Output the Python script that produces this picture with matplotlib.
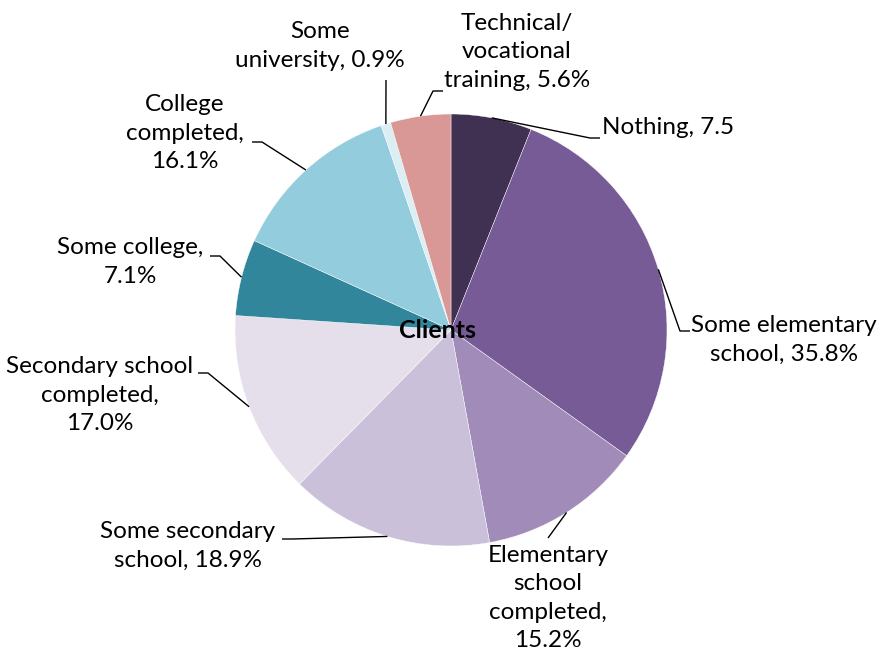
import numpy as np
import matplotlib
matplotlib.use("Agg")
import matplotlib.pyplot as plt

# Education level of clients (percent)
categories = [
    "Nothing",
    "Some elementary school",
    "Elementary school completed",
    "Some secondary school",
    "Secondary school completed",
    "Some college",
    "College completed",
    "Some university",
    "Technical/vocational training",
]
values = [7.5, 35.8, 15.2, 18.9, 17.0, 7.1, 16.1, 0.9, 5.6]
value_text = ["7.5", "35.8%", "15.2%", "18.9%", "17.0%", "7.1%", "16.1%", "0.9%", "5.6%"]
colors = ["#403152", "#775B97", "#A18BB8", "#CBC0DA", "#E5DFEC",
          "#31869C", "#93CDDD", "#DBEEF4", "#D99795"]

# How each data label is wrapped onto lines
label_wraps = [
    "{c}, {v}",
    "Some elementary\nschool, {v}",
    "Elementary\nschool\ncompleted,\n{v}",
    "Some secondary\nschool, {v}",
    "Secondary school\ncompleted,\n{v}",
    "Some college,\n{v}",
    "College\ncompleted,\n{v}",
    "Some\nuniversity, {v}",
    "Technical/\nvocational\ntraining, {v}",
]

# Label layout in pixel coordinates of the figure (origin top-left):
# text block centre, attach point of the leader, and stub direction
label_layout = [
    dict(text=(668, 128), attach=(600, 138), stub=-1),
    dict(text=(784, 340), attach=(690, 331), stub=-1),
    dict(text=(548, 598), attach=(548, 538), stub=0),
    dict(text=(188, 546), attach=(282, 539), stub=1),
    dict(text=(100, 395), attach=(198, 373), stub=1),
    dict(text=(130, 262), attach=(210, 256), stub=1),
    dict(text=(185, 133), attach=(252, 142), stub=1),
    dict(text=(320, 46), attach=(386, 80), stub=0),
    dict(text=(517, 52), attach=(443, 91), stub=-1),
]

W, H = 882, 658
CX, CY, R = 451, 330, 216


def to_data(px, py):
    return (px - CX) / R, (CY - py) / R


plt.rcParams["font.family"] = ["Lato", "DejaVu Sans"]
fig = plt.figure(figsize=(W / 100, H / 100), dpi=100)
ax = fig.add_axes([0, 0, 1, 1])

wedges, _ = ax.pie(values, colors=colors, startangle=90, counterclock=False,
                   radius=1.0, wedgeprops=dict(edgecolor="white", linewidth=0.3))
ax.set_xlim(-CX / R, (W - CX) / R)
ax.set_ylim((CY - H) / R, CY / R)
ax.set_aspect("auto")
ax.axis("off")

fs = 17.5
for w, cat, vt, wrap, lay in zip(wedges, categories, value_text, label_wraps, label_layout):
    mid = np.deg2rad((w.theta1 + w.theta2) / 2)
    ex, ey = np.cos(mid), np.sin(mid)
    tx, ty = to_data(*lay["text"])
    label = wrap.format(c=cat, v=vt)
    ax.text(tx, ty, label, ha="center", va="center", fontsize=fs,
            linespacing=1.42, color="#000000")
    axp, ayp = to_data(*lay["attach"])
    if lay["stub"] == 0:
        xs, ys = [ex, axp], [ey, ayp]
    else:
        sx = axp + lay["stub"] * 10 / R
        xs, ys = [ex, sx, axp], [ey, ayp, ayp]
    ax.plot(xs, ys, color="black", lw=1.0, solid_capstyle="butt")

ax.text(*to_data(438, 330), "Clients", ha="center", va="center",
        fontsize=18, fontweight="bold", color="#000000")

fig.savefig("out.png", dpi=100)
